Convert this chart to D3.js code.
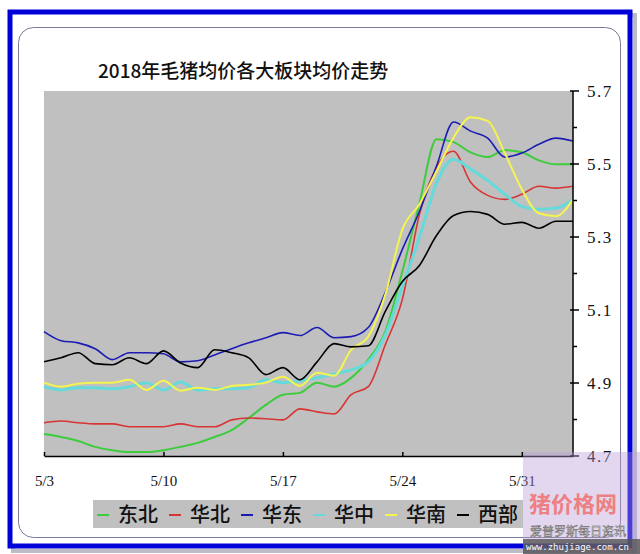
<!DOCTYPE html>
<html><head><meta charset="utf-8">
<script src="https://cdn.jsdelivr.net/npm/d3@7"></script>
<style>html,body{margin:0;padding:0;background:#fff;}svg{display:block;}</style>
</head><body>
<svg id="c" width="640" height="554"></svg>
<script>
// ---- data ----
const startDate = "2018-05-03";
const dayCount = 32; // 5/3 .. 6/3
const xTickLabels = ["5/3", "5/10", "5/17", "5/24", "5/31"];
const yTickLabels = ["4.7", "4.9", "5.1", "5.3", "5.5", "5.7"];
const seriesNames = ["东北", "华北", "华东", "华中", "华南", "西部"];
const seriesColors = ["#3ccc3c", "#d83434", "#1c1cb4", "#66dada", "#f4f450", "#000000"];
const dongbei = [4.760,4.752,4.741,4.725,4.716,4.711,4.711,4.716,4.725,4.736,4.752,4.771,4.804,4.840,4.868,4.873,4.901,4.890,4.914,4.964,5.041,5.206,5.392,5.568,5.560,5.532,5.519,5.538,5.532,5.510,5.499,5.499];
const huabei = [4.791,4.796,4.791,4.788,4.788,4.780,4.780,4.780,4.788,4.780,4.780,4.799,4.804,4.802,4.799,4.829,4.821,4.815,4.868,4.890,5.005,5.129,5.362,5.491,5.535,5.450,5.414,5.403,5.417,5.439,5.434,5.439];
const huadong = [5.041,5.016,5.010,4.994,4.964,4.983,4.983,4.980,4.958,4.961,4.977,4.994,5.010,5.024,5.038,5.030,5.052,5.024,5.027,5.052,5.148,5.266,5.370,5.494,5.615,5.590,5.571,5.519,5.530,5.554,5.571,5.563];
const huazhong = [4.890,4.881,4.887,4.887,4.884,4.890,4.901,4.881,4.903,4.881,4.884,4.884,4.887,4.909,4.901,4.906,4.914,4.925,4.936,4.958,5.032,5.164,5.299,5.447,5.513,5.486,5.455,5.417,5.384,5.376,5.379,5.403];
const huanan = [4.901,4.890,4.898,4.901,4.901,4.909,4.881,4.906,4.879,4.887,4.881,4.892,4.895,4.901,4.917,4.892,4.928,4.920,4.991,5.027,5.142,5.321,5.390,5.480,5.572,5.628,5.618,5.530,5.431,5.365,5.357,5.403];
const xibu = [4.958,4.969,4.983,4.953,4.950,4.969,4.953,4.988,4.955,4.942,4.991,4.983,4.969,4.923,4.942,4.909,4.958,5.008,4.999,5.002,5.096,5.178,5.222,5.304,5.359,5.370,5.362,5.335,5.340,5.324,5.343,5.343];
const allSeries = [dongbei, huabei, huadong, huazhong, huanan, xibu];
const seriesWidths = [2, 1.6, 1.6, 3, 2, 1.6];

// ---- build ----
const svg = d3.select("#c");
const parse = d3.timeParse("%Y-%m-%d");
const t0 = parse(startDate);
const dates = d3.range(dayCount).map(i => d3.timeDay.offset(t0, i));

const L = 44, R = 573, T = 91, B = 456;
const x = d3.scaleTime().domain([dates[0], dates[dates.length - 1]]).range([L, R]);
const y = d3.scaleLinear().domain([4.7, 5.7]).range([B, T]);

// outer frame with shadow
svg.append("rect").attr("x", 13).attr("y", 15).attr("width", 622).attr("height", 536).attr("fill", "none")
  .attr("stroke", "#9090a0").attr("stroke-width", 4).attr("opacity", 0.6);
svg.append("rect").attr("x", 10).attr("y", 12).attr("width", 620).attr("height", 534).attr("fill", "#fff")
  .attr("stroke", "#0000d8").attr("stroke-width", 5);
svg.append("rect").attr("x", 18.5).attr("y", 27.5).attr("width", 602).attr("height", 510).attr("rx", 15)
  .attr("fill", "#fff").attr("stroke", "#7a7a9a").attr("stroke-width", 1);

// title
svg.append("text").attr("x", 98).attr("y", 78).attr("font-family", "'Noto Sans CJK SC', sans-serif")
  .attr("font-size", 19).attr("font-weight", 500).attr("fill", "#111").text("2018年毛猪均价各大板块均价走势");

// plot bg
svg.append("rect").attr("x", L).attr("y", T).attr("width", R - L).attr("height", B - T).attr("fill", "#c0c0c0");

// lines
const line = d3.line().x((d, i) => x(dates[i])).y(d => y(d)).curve(d3.curveMonotoneX);
const gLines = svg.append("g");
allSeries.forEach((s, k) => {
  gLines.append("path").datum(s).attr("d", line).attr("fill", "none")
    .attr("stroke", seriesColors[k]).attr("stroke-width", seriesWidths[k]).attr("stroke-linejoin", "round");
});

// x axis
const xTickDates = xTickLabels.map((lab, i) => d3.timeDay.offset(t0, i * 7));
const xAxis = d3.axisBottom(x).tickValues(xTickDates).tickSizeInner(-4).tickSizeOuter(0).tickFormat((d, i) => xTickLabels[i]);
const gx = svg.append("g").attr("transform", `translate(0,${B})`).call(xAxis);
gx.select(".domain").attr("stroke", "#000").attr("stroke-width", 1.5);
gx.selectAll(".tick line").attr("stroke", "#000").attr("stroke-width", 1.5);
gx.selectAll(".tick text").attr("font-family", "'Liberation Serif', serif").attr("font-size", 15)
  .attr("fill", "#111").attr("dy", "0").attr("y", 30);

// y axis (right)
const yMajor = yTickLabels.map(Number);
const yMinor = d3.range(4.8, 5.7, 0.2).map(v => +v.toFixed(1));
const gy = svg.append("g").attr("transform", `translate(${R},0)`);
gy.append("line").attr("x1", 0).attr("x2", 0).attr("y1", T).attr("y2", B).attr("stroke", "#000").attr("stroke-width", 1.5);
gy.selectAll(".maj").data(yMajor).join("line").attr("x1", -3).attr("x2", 6)
  .attr("y1", d => y(d)).attr("y2", d => y(d)).attr("stroke", "#000").attr("stroke-width", 1.5);
gy.selectAll(".min").data(yMinor).join("line").attr("x1", 0).attr("x2", 4)
  .attr("y1", d => y(d)).attr("y2", d => y(d)).attr("stroke", "#000").attr("stroke-width", 1.5);
gy.selectAll(".lab").data(yTickLabels).join("text").attr("x", 14).attr("y", d => y(+d) + 6)
  .attr("font-family", "'Liberation Serif', serif").attr("font-size", 17).attr("letter-spacing", 1.5)
  .attr("fill", "#111").text(d => d);

// legend
const lg = svg.append("g");
lg.append("rect").attr("x", 93).attr("y", 500).attr("width", 430).attr("height", 28).attr("fill", "#c0c0c0");
seriesNames.forEach((n, k) => {
  const ix = 97 + k * 72;
  lg.append("line").attr("x1", ix).attr("x2", ix + 12).attr("y1", 515).attr("y2", 515)
    .attr("stroke", seriesColors[k]).attr("stroke-width", 2);
  lg.append("text").attr("x", ix + 21).attr("y", 522).attr("font-family", "'Noto Sans CJK SC', sans-serif")
    .attr("font-size", 20).attr("font-weight", 500).attr("fill", "#111").text(n);
});

// watermark
const wm = svg.append("g");
wm.append("rect").attr("x", 523).attr("y", 452).attr("width", 117).attr("height", 102).attr("fill", "#b89ad8").attr("opacity", 0.4);
wm.append("rect").attr("x", 523).attr("y", 539).attr("width", 117).attr("height", 15).attr("fill", "#555").attr("opacity", 0.8);
wm.append("text").attr("x", 529).attr("y", 512).attr("font-family", "'Noto Sans CJK SC', sans-serif").attr("font-weight", "bold")
  .attr("font-size", 22).attr("fill", "#f07070").attr("opacity", 0.85).text("猪价格网");
wm.append("text").attr("x", 530).attr("y", 536).attr("font-family", "'Noto Sans CJK SC', sans-serif")
  .attr("font-size", 12).attr("fill", "#fff").attr("stroke", "#666").attr("stroke-width", 0.5).text("爱普罗斯每日资讯");
wm.append("text").attr("x", 526).attr("y", 550).attr("font-family", "'DejaVu Sans Mono', monospace")
  .attr("font-size", 9).attr("fill", "#fff").text("www.zhujiage.com.cn");
</script>
</body></html>
